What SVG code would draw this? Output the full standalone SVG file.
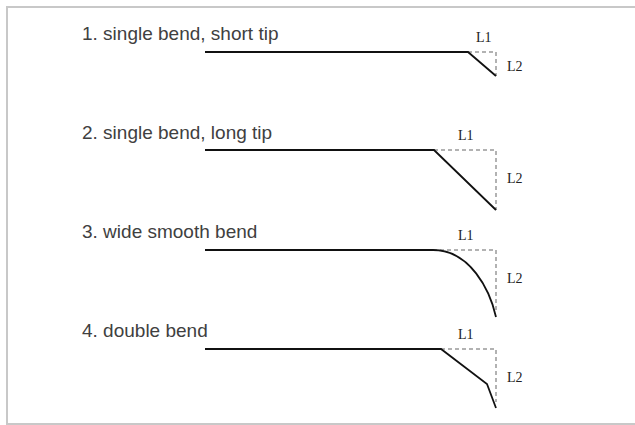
<svg xmlns="http://www.w3.org/2000/svg" width="635" height="425" viewBox="0 0 635 425">
<style>
.title{font-family:"Liberation Sans",Arial,sans-serif;font-size:19px;fill:#404040}
.lab{font-family:"Liberation Serif","Times New Roman",serif;font-size:14px;fill:#222}
.wire{fill:none;stroke:#111;stroke-width:1.8;stroke-linejoin:miter}
.dash{fill:none;stroke:#999;stroke-width:1.5;stroke-dasharray:4 3}
</style>
<rect x="0" y="0" width="635" height="425" fill="#fff"/>
<rect x="7" y="7" width="640" height="417" fill="none" stroke="#c8c8c8" stroke-width="2"/>
<g id="variant1">
<text class="title" x="82" y="40">1. single bend, short tip</text>
<path class="dash" d="M468,52 H496 V76"/>
<path class="wire" d="M205,52 H468 L496,76"/>
<text class="lab" x="476" y="42">L1</text>
<text class="lab" x="507" y="71">L2</text>
</g>
<g id="variant2">
<text class="title" x="82" y="139">2. single bend, long tip</text>
<path class="dash" d="M434,150 H496 V210"/>
<path class="wire" d="M205,150 H434 L496,210"/>
<text class="lab" x="458" y="140">L1</text>
<text class="lab" x="507" y="183">L2</text>
</g>
<g id="variant3">
<text class="title" x="82" y="238">3. wide smooth bend</text>
<path class="dash" d="M433,250 H496 V312"/>
<path class="wire" d="M205,250 H433 C470,250 490,290 496,317"/>
<text class="lab" x="458" y="240">L1</text>
<text class="lab" x="507" y="283">L2</text>
</g>
<g id="variant4">
<text class="title" x="82" y="337">4. double bend</text>
<path class="dash" d="M441,349 H496 V402"/>
<path class="wire" d="M205,349 H441 L487,384 L496,408"/>
<text class="lab" x="458" y="339">L1</text>
<text class="lab" x="507" y="382">L2</text>
</g>
</svg>
